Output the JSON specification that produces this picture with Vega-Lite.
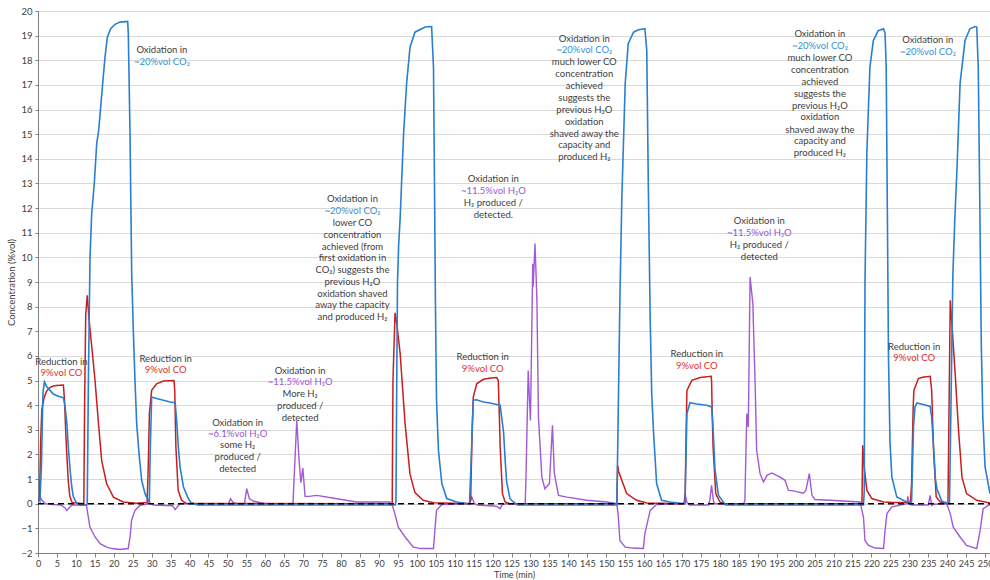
{
  "$schema": "https://vega.github.io/schema/vega-lite/v6.json",
  "width": 952,
  "height": 542,
  "autosize": {"type": "none"},
  "padding": {"left": 38, "top": 11, "right": 0, "bottom": 27},
  "background": "white",
  "config": {
    "view": {"stroke": null},
    "font": "Lato, DejaVu Sans, sans-serif",
    "axis": {"labelFont": "Lato, DejaVu Sans, sans-serif", "titleFont": "Lato, DejaVu Sans, sans-serif", "labelColor": "#404040", "titleColor": "#404040", "titleFontWeight": "normal", "domainColor": "#808080", "tickColor": "#808080", "gridColor": "#d9d9d9", "labelOverlap": false}
  },
  "datasets": {
    "series": [
      {"t":0,"c":0.25,"s":"CO2"},{"t":0.5,"c":0.1,"s":"CO2"},{"t":0.9,"c":1.5,"s":"CO2"},{"t":1.3,"c":4.5,"s":"CO2"},{"t":1.7,"c":4.95,"s":"CO2"},{"t":2.3,"c":4.75,"s":"CO2"},{"t":3.2,"c":4.6,"s":"CO2"},{"t":4.0,"c":4.45,"s":"CO2"},{"t":5.5,"c":4.35,"s":"CO2"},{"t":6.7,"c":4.3,"s":"CO2"},{"t":7.1,"c":4.0,"s":"CO2"},{"t":7.6,"c":3.3,"s":"CO2"},{"t":8.0,"c":2.3,"s":"CO2"},{"t":8.4,"c":1.5,"s":"CO2"},{"t":8.9,"c":0.7,"s":"CO2"},{"t":9.3,"c":0.3,"s":"CO2"},{"t":10.1,"c":0.05,"s":"CO2"},{"t":11,"c":-0.05,"s":"CO2"},{"t":12.8,"c":-0.05,"s":"CO2"},{"t":13.0,"c":0.0,"s":"CO2"},{"t":13.3,"c":5.0,"s":"CO2"},{"t":13.73,"c":10.0,"s":"CO2"},{"t":14.17,"c":11.77,"s":"CO2"},{"t":14.87,"c":13.02,"s":"CO2"},{"t":15.49,"c":14.61,"s":"CO2"},{"t":16.02,"c":15.15,"s":"CO2"},{"t":17.07,"c":17.05,"s":"CO2"},{"t":17.69,"c":18.13,"s":"CO2"},{"t":18.3,"c":18.94,"s":"CO2"},{"t":19.18,"c":19.28,"s":"CO2"},{"t":20.33,"c":19.46,"s":"CO2"},{"t":21.65,"c":19.55,"s":"CO2"},{"t":23.67,"c":19.58,"s":"CO2"},{"t":23.84,"c":19.08,"s":"CO2"},{"t":24.29,"c":15.02,"s":"CO2"},{"t":24.74,"c":9.3,"s":"CO2"},{"t":25.16,"c":7.04,"s":"CO2"},{"t":25.6,"c":5.01,"s":"CO2"},{"t":26.05,"c":3.25,"s":"CO2"},{"t":26.74,"c":1.9,"s":"CO2"},{"t":27.37,"c":0.95,"s":"CO2"},{"t":28.25,"c":0.41,"s":"CO2"},{"t":29.1,"c":0.14,"s":"CO2"},{"t":29.4,"c":0.1,"s":"CO2"},{"t":29.6,"c":2.0,"s":"CO2"},{"t":30.0,"c":4.33,"s":"CO2"},{"t":31.3,"c":4.27,"s":"CO2"},{"t":33.1,"c":4.2,"s":"CO2"},{"t":34.9,"c":4.13,"s":"CO2"},{"t":36.2,"c":4.1,"s":"CO2"},{"t":36.6,"c":3.38,"s":"CO2"},{"t":37.0,"c":2.4,"s":"CO2"},{"t":37.5,"c":1.49,"s":"CO2"},{"t":38.4,"c":0.68,"s":"CO2"},{"t":39.7,"c":0.2,"s":"CO2"},{"t":40.4,"c":0.05,"s":"CO2"},{"t":42,"c":-0.05,"s":"CO2"},{"t":94.3,"c":-0.05,"s":"CO2"},{"t":94.5,"c":0.1,"s":"CO2"},{"t":94.7,"c":5.0,"s":"CO2"},{"t":94.9,"c":9.0,"s":"CO2"},{"t":95.2,"c":10.5,"s":"CO2"},{"t":95.6,"c":11.6,"s":"CO2"},{"t":96.5,"c":15.0,"s":"CO2"},{"t":97.3,"c":17.05,"s":"CO2"},{"t":98.2,"c":18.53,"s":"CO2"},{"t":99.5,"c":19.14,"s":"CO2"},{"t":101.3,"c":19.28,"s":"CO2"},{"t":102.2,"c":19.35,"s":"CO2"},{"t":103.9,"c":19.37,"s":"CO2"},{"t":104.4,"c":17.7,"s":"CO2"},{"t":104.7,"c":12.3,"s":"CO2"},{"t":104.9,"c":8.3,"s":"CO2"},{"t":105.2,"c":4.2,"s":"CO2"},{"t":105.7,"c":2.17,"s":"CO2"},{"t":106.6,"c":0.82,"s":"CO2"},{"t":107.9,"c":0.21,"s":"CO2"},{"t":110.5,"c":0.07,"s":"CO2"},{"t":113.9,"c":0.0,"s":"CO2"},{"t":114.4,"c":2.0,"s":"CO2"},{"t":114.9,"c":4.2,"s":"CO2"},{"t":115.8,"c":4.22,"s":"CO2"},{"t":116.7,"c":4.17,"s":"CO2"},{"t":117.6,"c":4.13,"s":"CO2"},{"t":119.3,"c":4.09,"s":"CO2"},{"t":120.2,"c":4.06,"s":"CO2"},{"t":122.0,"c":4.0,"s":"CO2"},{"t":122.4,"c":3.5,"s":"CO2"},{"t":122.9,"c":2.9,"s":"CO2"},{"t":123.3,"c":1.8,"s":"CO2"},{"t":123.7,"c":0.9,"s":"CO2"},{"t":124.6,"c":0.2,"s":"CO2"},{"t":125.5,"c":0.07,"s":"CO2"},{"t":126.5,"c":-0.05,"s":"CO2"},{"t":152.8,"c":-0.05,"s":"CO2"},{"t":153.1,"c":3.0,"s":"CO2"},{"t":153.6,"c":8.26,"s":"CO2"},{"t":154.1,"c":12.3,"s":"CO2"},{"t":155.0,"c":17.05,"s":"CO2"},{"t":155.8,"c":18.67,"s":"CO2"},{"t":157.2,"c":19.14,"s":"CO2"},{"t":158.5,"c":19.24,"s":"CO2"},{"t":160.2,"c":19.28,"s":"CO2"},{"t":160.7,"c":18.4,"s":"CO2"},{"t":161.1,"c":13.0,"s":"CO2"},{"t":161.6,"c":7.5,"s":"CO2"},{"t":162.0,"c":4.5,"s":"CO2"},{"t":162.5,"c":2.85,"s":"CO2"},{"t":163.3,"c":0.82,"s":"CO2"},{"t":164.6,"c":0.14,"s":"CO2"},{"t":166.8,"c":0.07,"s":"CO2"},{"t":170.8,"c":0.0,"s":"CO2"},{"t":171.3,"c":3.66,"s":"CO2"},{"t":172.1,"c":4.1,"s":"CO2"},{"t":173.9,"c":4.05,"s":"CO2"},{"t":176.5,"c":4.0,"s":"CO2"},{"t":177.8,"c":3.93,"s":"CO2"},{"t":178.1,"c":3.38,"s":"CO2"},{"t":178.4,"c":2.4,"s":"CO2"},{"t":178.7,"c":1.4,"s":"CO2"},{"t":179.6,"c":0.35,"s":"CO2"},{"t":180.9,"c":0.07,"s":"CO2"},{"t":181.5,"c":-0.05,"s":"CO2"},{"t":217.9,"c":-0.05,"s":"CO2"},{"t":218.1,"c":0.5,"s":"CO2"},{"t":218.3,"c":9.0,"s":"CO2"},{"t":218.8,"c":14.3,"s":"CO2"},{"t":219.6,"c":17.72,"s":"CO2"},{"t":220.5,"c":18.8,"s":"CO2"},{"t":221.8,"c":19.2,"s":"CO2"},{"t":223.2,"c":19.28,"s":"CO2"},{"t":223.6,"c":19.1,"s":"CO2"},{"t":223.9,"c":17.7,"s":"CO2"},{"t":224.2,"c":12.0,"s":"CO2"},{"t":224.5,"c":6.0,"s":"CO2"},{"t":224.9,"c":2.5,"s":"CO2"},{"t":225.4,"c":1.08,"s":"CO2"},{"t":226.7,"c":0.27,"s":"CO2"},{"t":228.9,"c":0.1,"s":"CO2"},{"t":230.4,"c":0.05,"s":"CO2"},{"t":230.6,"c":0.07,"s":"CO2"},{"t":231.1,"c":3.11,"s":"CO2"},{"t":231.5,"c":3.93,"s":"CO2"},{"t":232.0,"c":4.09,"s":"CO2"},{"t":233.7,"c":4.03,"s":"CO2"},{"t":235.5,"c":3.95,"s":"CO2"},{"t":235.9,"c":3.52,"s":"CO2"},{"t":236.4,"c":2.3,"s":"CO2"},{"t":236.9,"c":1.0,"s":"CO2"},{"t":237.3,"c":0.6,"s":"CO2"},{"t":238.6,"c":0.1,"s":"CO2"},{"t":240.6,"c":0.0,"s":"CO2"},{"t":241.0,"c":4.0,"s":"CO2"},{"t":241.5,"c":9.3,"s":"CO2"},{"t":242.0,"c":11.5,"s":"CO2"},{"t":242.6,"c":13.67,"s":"CO2"},{"t":243.4,"c":17.05,"s":"CO2"},{"t":244.7,"c":18.8,"s":"CO2"},{"t":246.0,"c":19.28,"s":"CO2"},{"t":247.4,"c":19.37,"s":"CO2"},{"t":247.8,"c":19.35,"s":"CO2"},{"t":248.2,"c":17.72,"s":"CO2"},{"t":248.6,"c":12.3,"s":"CO2"},{"t":249.0,"c":6.5,"s":"CO2"},{"t":249.4,"c":3.5,"s":"CO2"},{"t":250.0,"c":1.49,"s":"CO2"},{"t":251.3,"c":0.41,"s":"CO2"},

      {"t":0,"c":0.1,"s":"CO"},{"t":0.4,"c":0.2,"s":"CO"},{"t":0.7,"c":2.5,"s":"CO"},{"t":1.0,"c":3.8,"s":"CO"},{"t":1.6,"c":4.3,"s":"CO"},{"t":2.2,"c":4.55,"s":"CO"},{"t":3.0,"c":4.7,"s":"CO"},{"t":4.0,"c":4.78,"s":"CO"},{"t":4.9,"c":4.8,"s":"CO"},{"t":6.7,"c":4.82,"s":"CO"},{"t":7.0,"c":4.2,"s":"CO"},{"t":7.3,"c":3.0,"s":"CO"},{"t":7.6,"c":2.0,"s":"CO"},{"t":8.0,"c":0.9,"s":"CO"},{"t":8.4,"c":0.3,"s":"CO"},{"t":9.0,"c":0.05,"s":"CO"},{"t":12.1,"c":0.0,"s":"CO"},{"t":12.3,"c":4.0,"s":"CO"},{"t":12.6,"c":7.7,"s":"CO"},{"t":13.0,"c":8.46,"s":"CO"},{"t":13.5,"c":7.44,"s":"CO"},{"t":14.2,"c":6.36,"s":"CO"},{"t":15.05,"c":5.01,"s":"CO"},{"t":15.9,"c":3.38,"s":"CO"},{"t":16.8,"c":1.76,"s":"CO"},{"t":18.1,"c":0.82,"s":"CO"},{"t":19.9,"c":0.27,"s":"CO"},{"t":22.5,"c":0.07,"s":"CO"},{"t":26,"c":0.02,"s":"CO"},{"t":28.8,"c":0.05,"s":"CO"},{"t":29.1,"c":1.5,"s":"CO"},{"t":29.4,"c":3.65,"s":"CO"},{"t":30.0,"c":4.6,"s":"CO"},{"t":31.3,"c":4.87,"s":"CO"},{"t":33.1,"c":4.98,"s":"CO"},{"t":35.9,"c":5.0,"s":"CO"},{"t":36.1,"c":4.6,"s":"CO"},{"t":36.4,"c":2.3,"s":"CO"},{"t":37.0,"c":0.54,"s":"CO"},{"t":37.9,"c":0.14,"s":"CO"},{"t":39,"c":0.02,"s":"CO"},{"t":93.5,"c":0.0,"s":"CO"},{"t":93.7,"c":5.0,"s":"CO"},{"t":94.25,"c":7.75,"s":"CO"},{"t":94.7,"c":7.31,"s":"CO"},{"t":95.6,"c":6.09,"s":"CO"},{"t":96.9,"c":3.25,"s":"CO"},{"t":98.2,"c":1.2,"s":"CO"},{"t":99.5,"c":0.45,"s":"CO"},{"t":101.7,"c":0.14,"s":"CO"},{"t":104.4,"c":0.04,"s":"CO"},{"t":113.9,"c":0.0,"s":"CO"},{"t":114.2,"c":0.14,"s":"CO"},{"t":114.6,"c":3.0,"s":"CO"},{"t":114.9,"c":4.33,"s":"CO"},{"t":115.8,"c":4.87,"s":"CO"},{"t":117.6,"c":5.05,"s":"CO"},{"t":119.5,"c":5.1,"s":"CO"},{"t":121.1,"c":5.12,"s":"CO"},{"t":121.5,"c":5.0,"s":"CO"},{"t":121.8,"c":3.5,"s":"CO"},{"t":122.0,"c":2.3,"s":"CO"},{"t":122.6,"c":0.41,"s":"CO"},{"t":123.3,"c":0.07,"s":"CO"},{"t":124.5,"c":0.0,"s":"CO"},{"t":152.8,"c":0.0,"s":"CO"},{"t":153.0,"c":1.56,"s":"CO"},{"t":153.3,"c":1.3,"s":"CO"},{"t":154.1,"c":0.95,"s":"CO"},{"t":155.4,"c":0.41,"s":"CO"},{"t":158,"c":0.14,"s":"CO"},{"t":160.7,"c":0.03,"s":"CO"},{"t":170.6,"c":0.0,"s":"CO"},{"t":170.8,"c":0.14,"s":"CO"},{"t":171.1,"c":3.0,"s":"CO"},{"t":171.3,"c":4.6,"s":"CO"},{"t":172.6,"c":5.01,"s":"CO"},{"t":174.8,"c":5.12,"s":"CO"},{"t":177.7,"c":5.17,"s":"CO"},{"t":177.8,"c":5.0,"s":"CO"},{"t":178.0,"c":3.5,"s":"CO"},{"t":178.2,"c":2.3,"s":"CO"},{"t":178.9,"c":0.41,"s":"CO"},{"t":180,"c":0.07,"s":"CO"},{"t":181,"c":0.0,"s":"CO"},{"t":217.5,"c":0.0,"s":"CO"},{"t":217.7,"c":2.37,"s":"CO"},{"t":218.1,"c":1.49,"s":"CO"},{"t":218.8,"c":0.54,"s":"CO"},{"t":220.1,"c":0.21,"s":"CO"},{"t":223.2,"c":0.07,"s":"CO"},{"t":226,"c":0.05,"s":"CO"},{"t":230.3,"c":0.05,"s":"CO"},{"t":230.6,"c":0.82,"s":"CO"},{"t":231.0,"c":3.8,"s":"CO"},{"t":231.2,"c":4.6,"s":"CO"},{"t":232.4,"c":5.08,"s":"CO"},{"t":233.5,"c":5.13,"s":"CO"},{"t":235.5,"c":5.17,"s":"CO"},{"t":235.9,"c":4.6,"s":"CO"},{"t":236.4,"c":2.17,"s":"CO"},{"t":237.1,"c":0.27,"s":"CO"},{"t":238.2,"c":0.07,"s":"CO"},{"t":240.2,"c":0.0,"s":"CO"},{"t":240.5,"c":4.0,"s":"CO"},{"t":240.8,"c":8.26,"s":"CO"},{"t":241.3,"c":7.17,"s":"CO"},{"t":242.1,"c":5.28,"s":"CO"},{"t":243.0,"c":2.98,"s":"CO"},{"t":243.9,"c":1.08,"s":"CO"},{"t":245.1,"c":0.41,"s":"CO"},{"t":247.8,"c":0.14,"s":"CO"},{"t":251.3,"c":0.03,"s":"CO"},

      {"t":0,"c":0.05,"s":"H2"},{"t":0.5,"c":0.3,"s":"H2"},{"t":1.0,"c":0.15,"s":"H2"},{"t":2.0,"c":0.0,"s":"H2"},{"t":4.0,"c":-0.03,"s":"H2"},{"t":6.0,"c":-0.05,"s":"H2"},{"t":7.0,"c":-0.15,"s":"H2"},{"t":7.6,"c":-0.27,"s":"H2"},{"t":8.3,"c":-0.15,"s":"H2"},{"t":9.0,"c":-0.05,"s":"H2"},{"t":12.8,"c":-0.05,"s":"H2"},{"t":13.0,"c":-0.27,"s":"H2"},{"t":13.7,"c":-0.95,"s":"H2"},{"t":15.05,"c":-1.35,"s":"H2"},{"t":16.4,"c":-1.62,"s":"H2"},{"t":18.1,"c":-1.76,"s":"H2"},{"t":19.5,"c":-1.82,"s":"H2"},{"t":21.6,"c":-1.86,"s":"H2"},{"t":23.8,"c":-1.82,"s":"H2"},{"t":24.3,"c":-1.35,"s":"H2"},{"t":24.7,"c":-0.67,"s":"H2"},{"t":25.6,"c":-0.27,"s":"H2"},{"t":27.0,"c":-0.06,"s":"H2"},{"t":28.8,"c":-0.02,"s":"H2"},{"t":29.2,"c":0.15,"s":"H2"},{"t":29.6,"c":0.0,"s":"H2"},{"t":30.5,"c":-0.05,"s":"H2"},{"t":35.5,"c":-0.08,"s":"H2"},{"t":36.2,"c":-0.24,"s":"H2"},{"t":36.8,"c":-0.12,"s":"H2"},{"t":37.5,"c":0.0,"s":"H2"},{"t":50.3,"c":0.0,"s":"H2"},{"t":50.8,"c":0.2,"s":"H2"},{"t":51.5,"c":0.05,"s":"H2"},{"t":52.5,"c":0.0,"s":"H2"},{"t":54.5,"c":0.0,"s":"H2"},{"t":55.1,"c":0.61,"s":"H2"},{"t":55.8,"c":0.2,"s":"H2"},{"t":57,"c":0.1,"s":"H2"},{"t":60,"c":0.0,"s":"H2"},{"t":67.3,"c":0.0,"s":"H2"},{"t":68.3,"c":3.38,"s":"H2"},{"t":68.9,"c":1.8,"s":"H2"},{"t":69.4,"c":0.85,"s":"H2"},{"t":69.9,"c":1.45,"s":"H2"},{"t":70.5,"c":0.3,"s":"H2"},{"t":71.5,"c":0.3,"s":"H2"},{"t":73.6,"c":0.34,"s":"H2"},{"t":78.9,"c":0.2,"s":"H2"},{"t":84.1,"c":0.07,"s":"H2"},{"t":92.9,"c":0.07,"s":"H2"},{"t":93.6,"c":-0.1,"s":"H2"},{"t":94.2,"c":-0.4,"s":"H2"},{"t":95.1,"c":-0.95,"s":"H2"},{"t":96.9,"c":-1.35,"s":"H2"},{"t":99.1,"c":-1.76,"s":"H2"},{"t":101,"c":-1.82,"s":"H2"},{"t":104.4,"c":-1.82,"s":"H2"},{"t":104.8,"c":-1.0,"s":"H2"},{"t":105.2,"c":-0.27,"s":"H2"},{"t":106.6,"c":-0.03,"s":"H2"},{"t":113.9,"c":0.0,"s":"H2"},{"t":114.5,"c":0.27,"s":"H2"},{"t":115.2,"c":0.0,"s":"H2"},{"t":116,"c":-0.05,"s":"H2"},{"t":121,"c":-0.1,"s":"H2"},{"t":122,"c":-0.2,"s":"H2"},{"t":122.5,"c":-0.05,"s":"H2"},{"t":123.5,"c":0.0,"s":"H2"},{"t":128.6,"c":0.0,"s":"H2"},{"t":128.8,"c":0.95,"s":"H2"},{"t":129.4,"c":5.41,"s":"H2"},{"t":129.8,"c":4.0,"s":"H2"},{"t":130.0,"c":3.38,"s":"H2"},{"t":130.6,"c":9.74,"s":"H2"},{"t":130.7,"c":8.8,"s":"H2"},{"t":131.2,"c":10.56,"s":"H2"},{"t":131.7,"c":8.26,"s":"H2"},{"t":132.1,"c":3.52,"s":"H2"},{"t":133.0,"c":1.08,"s":"H2"},{"t":133.8,"c":0.61,"s":"H2"},{"t":135.0,"c":0.82,"s":"H2"},{"t":135.8,"c":3.18,"s":"H2"},{"t":136.3,"c":1.22,"s":"H2"},{"t":137.4,"c":0.34,"s":"H2"},{"t":139.6,"c":0.27,"s":"H2"},{"t":144.9,"c":0.14,"s":"H2"},{"t":150.1,"c":0.07,"s":"H2"},{"t":152.8,"c":0.0,"s":"H2"},{"t":153.2,"c":-0.54,"s":"H2"},{"t":153.6,"c":-1.49,"s":"H2"},{"t":155.0,"c":-1.76,"s":"H2"},{"t":157,"c":-1.8,"s":"H2"},{"t":159.8,"c":-1.82,"s":"H2"},{"t":160.2,"c":-1.21,"s":"H2"},{"t":161.6,"c":-0.27,"s":"H2"},{"t":163.3,"c":-0.03,"s":"H2"},{"t":170.5,"c":0.0,"s":"H2"},{"t":170.8,"c":0.41,"s":"H2"},{"t":171.3,"c":0.05,"s":"H2"},{"t":172,"c":-0.05,"s":"H2"},{"t":177.0,"c":-0.05,"s":"H2"},{"t":177.3,"c":0.1,"s":"H2"},{"t":177.8,"c":0.75,"s":"H2"},{"t":178.3,"c":0.1,"s":"H2"},{"t":178.7,"c":0.0,"s":"H2"},{"t":186.3,"c":0.0,"s":"H2"},{"t":186.6,"c":0.14,"s":"H2"},{"t":187.1,"c":3.66,"s":"H2"},{"t":187.5,"c":3.11,"s":"H2"},{"t":187.97,"c":9.2,"s":"H2"},{"t":188.7,"c":8.12,"s":"H2"},{"t":189.3,"c":4.87,"s":"H2"},{"t":189.7,"c":2.17,"s":"H2"},{"t":190.6,"c":1.22,"s":"H2"},{"t":191.5,"c":0.88,"s":"H2"},{"t":192.4,"c":1.15,"s":"H2"},{"t":193.7,"c":1.25,"s":"H2"},{"t":195.9,"c":1.08,"s":"H2"},{"t":197.2,"c":0.95,"s":"H2"},{"t":198.1,"c":0.54,"s":"H2"},{"t":199.4,"c":0.52,"s":"H2"},{"t":202.0,"c":0.43,"s":"H2"},{"t":202.7,"c":0.54,"s":"H2"},{"t":203.6,"c":1.22,"s":"H2"},{"t":204.3,"c":0.34,"s":"H2"},{"t":205.1,"c":0.17,"s":"H2"},{"t":209.1,"c":0.14,"s":"H2"},{"t":217,"c":0.07,"s":"H2"},{"t":217.9,"c":-0.54,"s":"H2"},{"t":218.3,"c":-1.49,"s":"H2"},{"t":219.2,"c":-1.69,"s":"H2"},{"t":221,"c":-1.8,"s":"H2"},{"t":223.2,"c":-1.82,"s":"H2"},{"t":223.6,"c":-1.08,"s":"H2"},{"t":224.1,"c":-0.4,"s":"H2"},{"t":225.4,"c":-0.13,"s":"H2"},{"t":229.4,"c":0.0,"s":"H2"},{"t":229.6,"c":0.3,"s":"H2"},{"t":230.0,"c":0.0,"s":"H2"},{"t":230.5,"c":-0.05,"s":"H2"},{"t":235.0,"c":-0.05,"s":"H2"},{"t":235.5,"c":0.34,"s":"H2"},{"t":235.9,"c":-0.07,"s":"H2"},{"t":236.5,"c":-0.02,"s":"H2"},{"t":239.9,"c":0.0,"s":"H2"},{"t":240.8,"c":-0.4,"s":"H2"},{"t":241.6,"c":-0.95,"s":"H2"},{"t":243.4,"c":-1.35,"s":"H2"},{"t":245.1,"c":-1.69,"s":"H2"},{"t":247.8,"c":-1.82,"s":"H2"},{"t":248.7,"c":-1.08,"s":"H2"},{"t":249.5,"c":-0.2,"s":"H2"},{"t":251.3,"c":-0.03,"s":"H2"}
    ],
    "notes": [
      {"t":32.7,"c":18.40,"label":"Oxidation in","k":"txt"},
      {"t":32.7,"c":17.91,"label":"~20%vol CO₂","k":"blue"},
      {"t":6.2,"c":5.75,"label":"Reduction in","k":"txt"},
      {"t":6.2,"c":5.29,"label":"9%vol CO","k":"red"},
      {"t":33.7,"c":5.89,"label":"Reduction in","k":"txt"},
      {"t":33.7,"c":5.44,"label":"9%vol CO","k":"red"},
      {"t":52.7,"c":3.29,"label":"Oxidation in","k":"txt"},
      {"t":52.7,"c":2.84,"label":"~6.1%vol H₂O","k":"purple"},
      {"t":52.7,"c":2.37,"label":"some H₂","k":"txt"},
      {"t":52.7,"c":1.90,"label":"produced /","k":"txt"},
      {"t":52.7,"c":1.42,"label":"detected","k":"txt"},
      {"t":69.2,"c":5.39,"label":"Oxidation in","k":"txt"},
      {"t":69.2,"c":4.93,"label":"~11.5%vol H₂O","k":"purple"},
      {"t":69.2,"c":4.44,"label":"More H₂","k":"txt"},
      {"t":69.2,"c":3.96,"label":"produced /","k":"txt"},
      {"t":69.2,"c":3.49,"label":"detected","k":"txt"},
      {"t":83.0,"c":12.35,"label":"Oxidation in","k":"txt"},
      {"t":83.0,"c":11.87,"label":"~20%vol CO₂","k":"blue"},
      {"t":83.0,"c":11.39,"label":"lower CO","k":"txt"},
      {"t":83.0,"c":10.92,"label":"concentration","k":"txt"},
      {"t":83.0,"c":10.44,"label":"achieved (from","k":"txt"},
      {"t":83.0,"c":9.96,"label":"first oxidation in","k":"txt"},
      {"t":83.0,"c":9.49,"label":"CO₂) suggests the","k":"txt"},
      {"t":83.0,"c":9.01,"label":"previous H₂O","k":"txt"},
      {"t":83.0,"c":8.53,"label":"oxidation shaved","k":"txt"},
      {"t":83.0,"c":8.06,"label":"away the capacity","k":"txt"},
      {"t":83.0,"c":7.58,"label":"and produced H₂","k":"txt"},
      {"t":120.2,"c":13.17,"label":"Oxidation in","k":"txt"},
      {"t":120.2,"c":12.69,"label":"~11.5%vol H₂O","k":"purple"},
      {"t":120.2,"c":12.21,"label":"H₂ produced /","k":"txt"},
      {"t":120.2,"c":11.73,"label":"detected.","k":"txt"},
      {"t":117.4,"c":5.95,"label":"Reduction in","k":"txt"},
      {"t":117.4,"c":5.48,"label":"9%vol CO","k":"red"},
      {"t":144.2,"c":18.88,"label":"Oxidation in","k":"txt"},
      {"t":144.2,"c":18.40,"label":"~20%vol CO₂","k":"blue"},
      {"t":144.2,"c":17.91,"label":"much lower CO","k":"txt"},
      {"t":144.2,"c":17.43,"label":"concentration","k":"txt"},
      {"t":144.2,"c":16.95,"label":"achieved","k":"txt"},
      {"t":144.2,"c":16.47,"label":"suggests the","k":"txt"},
      {"t":144.2,"c":15.98,"label":"previous H₂O","k":"txt"},
      {"t":144.2,"c":15.50,"label":"oxidation","k":"txt"},
      {"t":144.2,"c":15.02,"label":"shaved away the","k":"txt"},
      {"t":144.2,"c":14.55,"label":"capacity and","k":"txt"},
      {"t":144.2,"c":14.07,"label":"produced H₂","k":"txt"},
      {"t":173.9,"c":6.06,"label":"Reduction in","k":"txt"},
      {"t":173.9,"c":5.59,"label":"9%vol CO","k":"red"},
      {"t":190.4,"c":11.46,"label":"Oxidation in","k":"txt"},
      {"t":190.4,"c":10.98,"label":"~11.5%vol H₂O","k":"purple"},
      {"t":190.4,"c":10.49,"label":"H₂ produced /","k":"txt"},
      {"t":190.4,"c":10.01,"label":"detected","k":"txt"},
      {"t":206.4,"c":19.05,"label":"Oxidation in","k":"txt"},
      {"t":206.4,"c":18.57,"label":"~20%vol CO₂","k":"blue"},
      {"t":206.4,"c":18.09,"label":"much lower CO","k":"txt"},
      {"t":206.4,"c":17.60,"label":"concentration","k":"txt"},
      {"t":206.4,"c":17.12,"label":"achieved","k":"txt"},
      {"t":206.4,"c":16.64,"label":"suggests the","k":"txt"},
      {"t":206.4,"c":16.16,"label":"previous H₂O","k":"txt"},
      {"t":206.4,"c":15.68,"label":"oxidation","k":"txt"},
      {"t":206.4,"c":15.19,"label":"shaved away the","k":"txt"},
      {"t":206.4,"c":14.72,"label":"capacity and","k":"txt"},
      {"t":206.4,"c":14.23,"label":"produced H₂","k":"txt"},
      {"t":234.9,"c":18.81,"label":"Oxidation in","k":"txt"},
      {"t":234.9,"c":18.33,"label":"~20%vol CO₂","k":"blue"},
      {"t":231.3,"c":6.36,"label":"Reduction in","k":"txt"},
      {"t":231.3,"c":5.90,"label":"9%vol CO","k":"red"}
    ],
    "zero": [{"t": 0, "c": 0}, {"t": 251.3, "c": 0}]
  },
  "encoding": {
    "x": {"field": "t", "type": "quantitative", "scale": {"domain": [0, 251.3], "nice": false, "zero": false},
      "axis": {"title": "Time (min)", "values": [0,5,10,15,20,25,30,35,40,45,50,55,60,65,70,75,80,85,90,95,100,105,110,115,120,125,130,135,140,145,150,155,160,165,170,175,180,185,190,195,200,205,210,215,220,225,230,235,240,245,250], "grid": false, "labelFontSize": 9, "titleFontSize": 9, "tickSize": 4, "labelPadding": 2, "titlePadding": 2, "labelFlush": false, "labelOverlap": false}},
    "y": {"field": "c", "type": "quantitative", "scale": {"domain": [-2, 20], "nice": false},
      "axis": {"title": "Concentration (%vol)", "values": [-2,-1,0,1,2,3,4,5,6,7,8,9,10,11,12,13,14,15,16,17,18,19,20], "grid": true, "labelFontSize": 9.5, "titleFontSize": 9.5, "tickSize": 3, "labelPadding": 3, "titlePadding": 4, "labelOverlap": false}}
  },
  "layer": [
    {
      "data": {"name": "series"},
      "transform": [{"filter": "datum.s === 'H2'"}],
      "mark": {"type": "line", "color": "#a05ad8", "strokeWidth": 1.4, "clip": true}
    },
    {
      "data": {"name": "series"},
      "transform": [{"filter": "datum.s === 'CO'"}],
      "mark": {"type": "line", "color": "#c81e1e", "strokeWidth": 1.5, "clip": true}
    },
    {
      "data": {"name": "series"},
      "transform": [{"filter": "datum.s === 'CO2'"}],
      "mark": {"type": "line", "color": "#2a7fd0", "strokeWidth": 1.6, "clip": true}
    },
    {
      "data": {"name": "zero"},
      "mark": {"type": "line", "color": "#000000", "strokeWidth": 1.4, "strokeDash": [6, 4]}
    },
    {
      "data": {"name": "notes"},
      "mark": {"type": "text", "align": "center", "baseline": "middle", "fontSize": 9.5, "font": "Lato, DejaVu Sans, sans-serif"},
      "encoding": {
        "text": {"field": "label"},
        "color": {"field": "k", "type": "nominal", "scale": {"domain": ["txt", "blue", "red", "purple"], "range": ["#404040", "#3b8fd6", "#e0302c", "#9b55d6"]}, "legend": null}
      }
    }
  ]
}
